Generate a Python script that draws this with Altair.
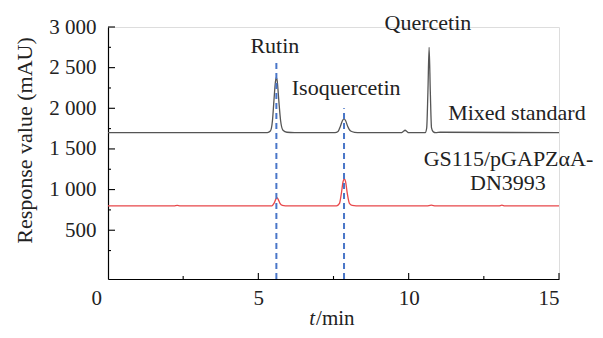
import altair as alt
import pandas as pd

# Mixed standard trace (time in min, response in mAU)
std_t = [0, 5.30, 5.40, 5.47, 5.52, 5.57, 5.60, 5.63, 5.68, 5.74, 5.82, 5.95, 6.20,
         7.55, 7.65, 7.73, 7.80, 7.85, 7.90, 7.97, 8.07, 8.20, 8.40,
         9.75, 9.82, 9.88, 9.94, 10.00, 10.55, 10.60, 10.64, 10.68, 10.72, 10.76, 10.82, 10.90, 11.05, 15]
std_v = [1700, 1700, 1720, 1850, 2100, 2330, 2380, 2330, 2100, 1850, 1730, 1705, 1700,
         1700, 1715, 1780, 1850, 1870, 1850, 1780, 1720, 1705, 1700,
         1700, 1715, 1730, 1715, 1700, 1700, 1760, 2200, 2750, 2200, 1760, 1710, 1700, 1705, 1700]

# GS115/pGAPZaA-DN3993 trace
smp_t = [0, 2.20, 2.30, 2.40, 2.60, 5.45, 5.52, 5.58, 5.62, 5.66, 5.72, 5.80, 5.90,
         7.60, 7.70, 7.76, 7.82, 7.86, 7.90, 7.96, 8.03, 8.12, 8.25,
         10.60, 10.75, 10.90, 13.00, 13.10, 13.20, 15]
smp_v = [800, 800, 806, 800, 800, 800, 830, 880, 900, 880, 830, 805, 800,
         800, 830, 950, 1100, 1130, 1100, 950, 830, 805, 800,
         800, 808, 800, 800, 808, 800, 800]

# Reference dashed lines
ref_t = [5.60, 7.85]
ref_top = [2590, 2000]
ref_bottom = [-100, -100]

# Annotations
ann_text = ["Rutin", "Isoquercetin", "Quercetin", "Mixed standard", "GS115/pGAPZαA-", "DN3993"]
ann_t = [5.55, 7.92, 10.64, 13.60, 13.32, 13.30]
ann_v = [2763, 2250, 3050, 1945, 1373, 1080]

# Axis ticks
x_major = [5, 10, 15]
x_minor = [2.5, 7.5, 12.5]
x_labels = [0, 5, 10, 15]
y_major = [500, 1000, 1500, 2000, 2500, 3000]
y_minor = [250, 750, 1250, 1750, 2250, 2750]

W, H = 451, 252
FONT = "Liberation Serif"

traces = pd.DataFrame({
    "t": std_t + smp_t,
    "v": std_v + smp_v,
    "s": ["Mixed standard"] * len(std_t) + ["Sample"] * len(smp_t),
})
refs = pd.DataFrame({"t": ref_t, "top": ref_top, "bottom": ref_bottom})
ann = pd.DataFrame({"label": ann_text, "t": ann_t, "v": ann_v})

xs = alt.Scale(domain=[0, 15], nice=False, zero=False)
ys = alt.Scale(domain=[-100, 3000], nice=False, zero=False)

x_axis = alt.Axis(values=x_labels, title=None, ticks=False, tickSize=0, grid=False,
                  domainColor="black", domainWidth=1.2, labelFont=FONT, labelFontSize=21,
                  labelColor="#222", labelPadding=8,
                  labelOffset={"condition": {"test": "datum.value == 0", "value": -17}, "value": 0})
y_axis = alt.Axis(values=y_major, ticks=False, tickSize=0, grid=False,
                  domainColor="black", domainWidth=1.2, labelFont=FONT, labelFontSize=21,
                  labelColor="#222", labelPadding=12,
                  labelExpr="replace(format(datum.value, ','), ',', ' ')",
                  title="Response value (mAU)", titleFont=FONT, titleFontSize=22,
                  titleFontWeight="normal", titleColor="#222", titleAngle=-90,
                  titleX=-84, titleY=113, titleAlign="center", titleBaseline="middle")

lines = alt.Chart(traces).mark_line(strokeWidth=1.3, interpolate="monotone").encode(
    x=alt.X("t:Q", scale=xs, axis=x_axis),
    y=alt.Y("v:Q", scale=ys, axis=y_axis),
    color=alt.Color("s:N", scale=alt.Scale(domain=["Mixed standard", "Sample"],
                                           range=["#555555", "#e8474a"]), legend=None),
    detail="s:N",
)

dashed = alt.Chart(refs).mark_rule(color="#4a76c8", strokeWidth=2, strokeDash=[6, 4]).encode(
    x=alt.X("t:Q", scale=xs), y=alt.Y("bottom:Q", scale=ys), y2="top:Q")

def xticks(vals, ln):
    return alt.Chart(pd.DataFrame({"t": vals})).mark_rule(color="black", strokeWidth=1.1).encode(
        x=alt.X("t:Q", scale=xs), y=alt.value(H), y2=alt.value(H - ln))

def yticks(vals, ln):
    return alt.Chart(pd.DataFrame({"v": vals})).mark_rule(color="black", strokeWidth=1.1).encode(
        y=alt.Y("v:Q", scale=ys), x=alt.value(0), x2=alt.value(ln))

texts = alt.Chart(ann).mark_text(font=FONT, fontSize=22, color="#222", baseline="middle").encode(
    x=alt.X("t:Q", scale=xs), y=alt.Y("v:Q", scale=ys), text="label:N")

tt = alt.Chart(pd.DataFrame({"t": [6.92], "s": ["t"]})).mark_text(
    font=FONT, fontSize=21, fontStyle="italic", color="#222", align="right", baseline="middle", dx=-1
).encode(x=alt.X("t:Q", scale=xs), y=alt.value(H + 40), text="s:N")
tmin = alt.Chart(pd.DataFrame({"t": [6.92], "s": ["/min"]})).mark_text(
    font=FONT, fontSize=21, color="#222", align="left", baseline="middle"
).encode(x=alt.X("t:Q", scale=xs), y=alt.value(H + 40), text="s:N")

chart = alt.layer(
    lines, dashed, xticks(x_major, 6), xticks(x_minor, 3), yticks(y_major, 7), yticks(y_minor, 3),
    texts, tt, tmin
).properties(
    width=W, height=H,
    autosize=alt.AutoSizeParams(type="none"),
    padding={"left": 100, "top": 19, "right": 34, "bottom": 51},
).configure_view(stroke=None).configure(background="white")

chart.save("out.html", embed_options={"renderer": "svg", "actions": False})
